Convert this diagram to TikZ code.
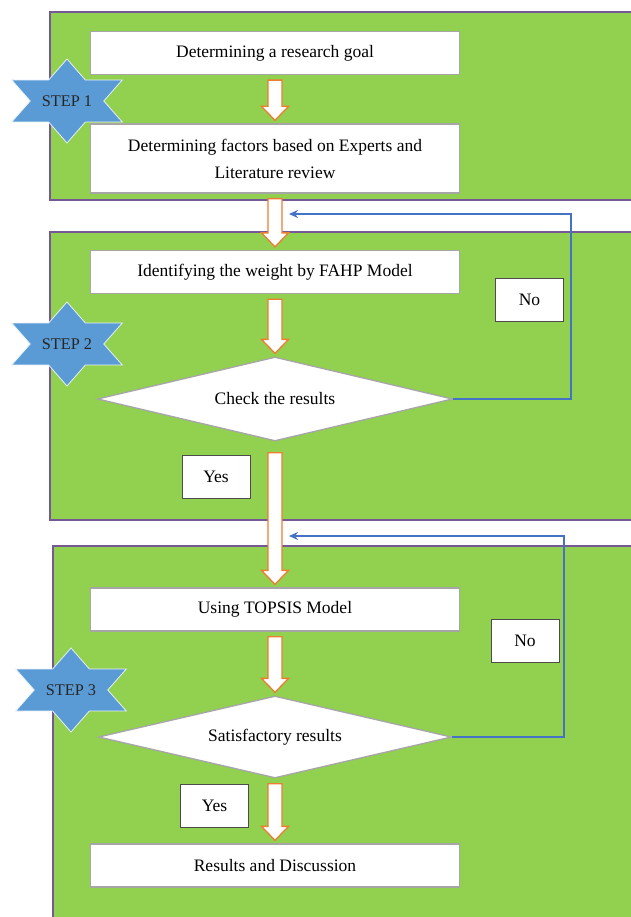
\documentclass[tikz,border=0pt]{standalone}
\usepackage{fontspec}
\setmainfont{Liberation Serif}
\usepackage{xcolor}
\usepackage{tikz}
\usetikzlibrary{positioning,shapes.geometric,calc,arrows.meta}

\definecolor{panelgreen}{RGB}{146,208,80}
\definecolor{panelline}{RGB}{118,88,150}
\definecolor{boxline}{RGB}{166,166,166}
\definecolor{arroworange}{RGB}{237,125,49}
\definecolor{loopblue}{RGB}{68,114,196}
\definecolor{starblue}{RGB}{91,155,213}

\tikzset{
  panel/.style={fill=panelgreen, draw=panelline, line width=1.6pt},
  stepbox/.style={rectangle, fill=white, draw=boxline, line width=1.3pt,
    minimum width=369pt, minimum height=43pt, align=center,
    font=\fontsize{17.5}{27}\selectfont},
  decision/.style={diamond, fill=white, draw=boxline, line width=1.3pt,
    shape aspect=4.2, minimum width=355pt, minimum height=84pt, inner sep=0pt,
    font=\fontsize{17.5}{18}\selectfont},
  answer/.style={rectangle, fill=white, draw=black!70, line width=0.8pt,
    minimum width=68pt, minimum height=43pt,
    font=\fontsize{17.5}{18}\selectfont},
  starshape/.style={fill=starblue, draw=white!85!starblue, line width=0.8pt},
  startext/.style={font=\fontsize{16.3}{16}\selectfont, text=black!85},
  blockarrow/.style={fill=white, draw=arroworange, line width=1.3pt, line join=miter},
  feedback/.style={draw=loopblue, line width=1.8pt, -{Stealth[length=9pt,width=8pt]}}
}

\newcommand{\blockarrow}[2]{%
  \draw[blockarrow] let \p1=(#1), \p2=(#2) in
    (\x1-7pt,\y1-5pt) -- (\x1+7pt,\y1-5pt) -- (\x1+7pt,\y2+17pt)
    -- (\x1+13.5pt,\y2+17pt) -- (\x1,\y2+3pt) -- (\x1-13.5pt,\y2+17pt)
    -- (\x1-7pt,\y2+17pt) -- cycle;}

\begin{document}
\begin{tikzpicture}[x=1pt,y=-1pt]
\useasboundingbox (0,0) rectangle (630,917);

% the three green steps
\draw[panel] (50,12) rectangle (634,200);
\draw[panel] (50,232) rectangle (634,520);
\draw[panel] (53,546) rectangle (634,922);

% step 1
\node[stepbox] (goal) at (275,53) {Determining a research goal};
\node[stepbox, minimum height=69pt] (factors) at (275,158.5)
  {Determining factors based on Experts and\\Literature review};

% step 2
\node[stepbox] (fahp) at (275,272) {Identifying the weight by FAHP Model};
\node[decision] (check) at (275,399) {Check the results};
\node[answer] (yes1) at (216,477) {Yes};
\node[answer] (no1) at (529.5,299.5) {No};

% step 3
\node[stepbox] (topsis) at (275,609.5) {Using TOPSIS Model};
\node[decision, minimum width=353pt, minimum height=82pt] (satisfy) at (275,737)
  {Satisfactory results};
\node[answer] (yes2) at (214.5,805.5) {Yes};
\node[answer] (no2) at (525,640.5) {No};
\node[stepbox] (results) at (275,865.5) {Results and Discussion};

% stars
\foreach \n/\cx/\cy in {1/67/101, 2/67/344, 3/71/690} {
  \draw[starshape, shift={(\cx,\cy)}, xscale=1.52]
    (90:42) -- (120:24.2) -- (150:42) -- (180:24.2) -- (210:42) -- (240:24.2)
    -- (270:42) -- (300:24.2) -- (330:42) -- (0:24.2) -- (30:42) -- (60:24.2) -- cycle;
  \node[startext] (step\n) at (\cx,\cy) {STEP \n};
}

% block arrows
\blockarrow{goal.south}{factors.north}
\blockarrow{factors.south}{fahp.north}
\blockarrow{fahp.south}{check.north}
\blockarrow{$(check.south)+(0,6)$}{topsis.north}
\blockarrow{topsis.south}{satisfy.north}
\blockarrow{satisfy.south}{results.north}

% loops back
\coordinate (back1) at (289,214);
\coordinate (back2) at (289,536);
\draw[feedback] (check.east) -- ++(118,0) |- (back1);
\draw[feedback] (satisfy.east) -- ++(112,0) |- (back2);

\end{tikzpicture}
\end{document}
